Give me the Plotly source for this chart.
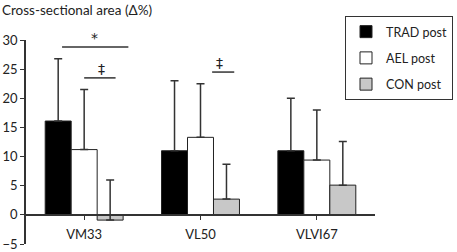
import plotly.graph_objects as go

categories = ["VM33", "VL50", "VLVI67"]
series_names = ["TRAD post", "AEL post", "CON post"]
trad_values = [16.1, 11.0, 11.0]
ael_values = [11.2, 13.3, 9.4]
con_values = [-0.9, 2.7, 5.1]
trad_err = [10.7, 12.0, 9.0]
ael_err = [10.3, 9.2, 8.6]
con_err = [6.9, 6.0, 7.5]
y_ticks = [-5, 0, 5, 10, 15, 20, 25, 30]

# significance brackets: (x0, x1, y, label, label_x)
sig_marks = [
    (-0.19, 0.38, 28.8, "*", 0.09),
    (0.0, 0.27, 23.5, "‡", 0.15),
    (1.10, 1.29, 24.5, "‡", 1.16),
]

fills = ["#000000", "#ffffff", "#c8c8c8"]
values = [trad_values, ael_values, con_values]
errs = [trad_err, ael_err, con_err]

FONT = "Lato, 'Open Sans', 'DejaVu Sans', sans-serif"
SIG_FONT = "'DejaVu Sans', sans-serif"

fig = go.Figure()
for i, name in enumerate(series_names):
    fig.add_trace(go.Bar(
        x=list(range(len(categories))),
        y=values[i],
        name=name,
        legendgroup=name,
        marker=dict(color=fills[i], line=dict(color="#222222", width=1)),
        error_y=dict(type="data", array=errs[i], arrayminus=[0] * len(categories),
                     symmetric=False, color="#333333", thickness=1.5, width=4),
    ))

for x0, x1, yv, lab, lx in sig_marks:
    fig.add_shape(type="line", xref="x", yref="y", x0=x0, x1=x1, y0=yv, y1=yv,
                  line=dict(color="#333333", width=1.5))
    fig.add_annotation(xref="x", yref="y", x=lx, y=yv, text=lab, showarrow=False,
                       yanchor="bottom", yshift=-1,
                       font=dict(family=SIG_FONT, size=14, color="#222222"))

fig.add_annotation(xref="paper", yref="paper", x=-26 / 349, y=(244 - 10) / 204,
                   text="Cross-sectional area (Δ%)", showarrow=False,
                   xanchor="left", yanchor="middle",
                   font=dict(family=FONT, size=13.5, color="#222222"))

fig.update_layout(
    width=457, height=252,
    margin=dict(l=26, r=82, t=40, b=8, autoexpand=False),
    paper_bgcolor="white", plot_bgcolor="white",
    barmode="group", bargap=0.33, bargroupgap=0,
    font=dict(family=FONT, size=13, color="#222222"),
    showlegend=True,
    legend=dict(x=(453 - 26) / 349, y=(244 - 16) / 204, xanchor="right", yanchor="top",
                bordercolor="#333333", borderwidth=1, bgcolor="white",
                font=dict(family=FONT, size=12.5, color="#222222"),
                itemwidth=30,
                traceorder="grouped", tracegroupgap=7),
    xaxis=dict(
        tickmode="array", tickvals=list(range(len(categories))), ticktext=categories,
        range=[-0.5, 2.5], anchor="free", position=5 / 35,
        showline=True, linecolor="#333333", linewidth=1.5,
        ticks="outside", tickson="boundaries", ticklen=4, tickcolor="#333333",
        showgrid=False, zeroline=False, automargin=False,
        tickfont=dict(size=13), ticklabelstandoff=4,
    ),
    yaxis=dict(
        range=[-5, 30], tickvals=y_ticks,
        showline=True, linecolor="#333333", linewidth=1.5,
        ticks="outside", ticklen=4, tickcolor="#333333",
        showgrid=False, zeroline=False, automargin=False,
        tickfont=dict(size=13),
    ),
)

fig.write_html("out.html", config={"displayModeBar": False},
               post_script="document.body.style.margin='0';")
